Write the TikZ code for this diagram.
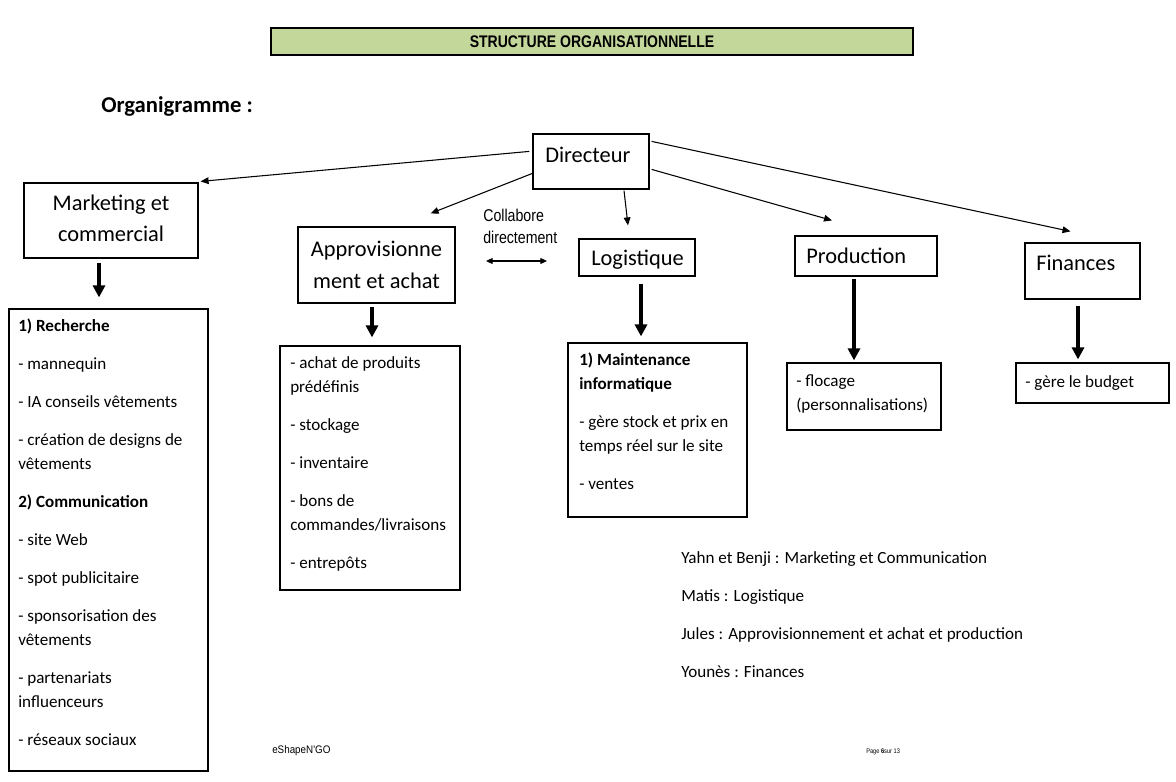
\documentclass[tikz,border=0pt]{standalone}
\usepackage{fontspec}
\setmainfont{Carlito}
\newfontfamily\arialf{Liberation Sans}
\usetikzlibrary{arrows.meta,fit,calc}
\begin{document}
\begin{tikzpicture}[x=0.75pt,y=-0.75pt,
  box/.style={draw, line width=0.9pt, inner sep=0pt},
  titlebar/.style={draw, line width=0.9pt, inner sep=0pt, fill=barGreen},
  head/.style={font=\fontsize{16.8}{20}\selectfont, inner sep=0pt, anchor=base west},
  headc/.style={font=\fontsize{16.8}{20}\selectfont, inner sep=0pt, anchor=base},
  item/.style={font=\fontsize{12.8}{15}\selectfont, inner sep=0pt, anchor=base west},
  thin/.style={-{Triangle[length=6pt,width=5pt]}, line width=0.8pt},
  thick/.style={-{Triangle[length=9pt,width=9pt]}, line width=2.6pt},
  both/.style={{Triangle[length=5pt,width=4.5pt]}-{Triangle[length=5pt,width=4.5pt]}, line width=0.8pt}
]
\definecolor{barGreen}{HTML}{C4D79B}
\fill[white] (0,0) rectangle (1176,781);
\useasboundingbox (0,0) rectangle (1176,781);

% title bar
\node[titlebar, fit={(271,28)(913,55)}] (bar) {};
\node[inner sep=0pt, font=\arialf\bfseries\fontsize{12.6}{14}\selectfont] (bartxt) at (bar.center) {\scalebox{0.835}[1]{STRUCTURE ORGANISATIONNELLE}};

\node[inner sep=0pt, anchor=base west, font=\bfseries\fontsize{17}{20}\selectfont] (orga) at (101,113) {Organigramme :};

% level boxes
\node[box, fit={(533,134)(649,189)}] (dir) {};
\node[head] (dirt) at (545,162) {Directeur};

\node[box, fit={(24,183)(198,258)}] (mkt) {};
\node[headc] (mkt1) at (111,210) {Marketing et};
\node[headc] (mkt2) at (111,241) {commercial};

\node[box, fit={(298,227)(455,303)}] (app) {};
\node[headc] (app1) at (376.5,256) {Approvisionne};
\node[headc] (app2) at (376.5,288) {ment et achat};

\node[box, fit={(579,239)(695,276)}] (log) {};
\node[head] (logt) at (591,265) {Logistique};

\node[box, fit={(795,236)(937,276)}] (prod) {};
\node[head] (prodt) at (806,263) {Production};

\node[box, fit={(1025,243)(1140,299)}] (fin) {};
\node[head] (fint) at (1036,270) {Finances};

% collabore
\node[inner sep=0pt, anchor=base west, font=\arialf\fontsize{12.8}{14}\selectfont] (col1) at (483,221) {\scalebox{0.83}[1]{Collabore}};
\node[inner sep=0pt, anchor=base west, font=\arialf\fontsize{12.8}{14}\selectfont] (col2) at (483,243) {\scalebox{0.83}[1]{directement}};
\coordinate (cl) at (486,261);
\coordinate (cr) at (547,261);
\draw[both] (cl) -- (cr);

% director arrows
\draw[thin] ($(dir.north west)+(-3,18)$) -- ($(mkt.north east)+(2,-1)$);
\draw[thin] ($(dir.north west)+(0,40)$) -- ($(app.north east)+(-25,-13)$);
\draw[thin] ($(dir.south)+(33,1)$) -- ($(log.north)+(-9,-13)$);
\draw[thin] ($(dir.north east)+(2,36)$) -- ($(prod.north)+(-34,-15)$);
\draw[thin] ($(dir.north east)+(2,8)$) -- ($(fin.north)+(-12,-11)$);

% list boxes
\node[box, fit={(9,309)(208,771)}] (mktl) {};
\node[box, fit={(280,346)(460,590)}] (appl) {};
\node[box, fit={(568,343)(747,517)}] (logl) {};
\node[box, fit={(787,363)(941,430)}] (prodl) {};
\node[box, fit={(1016,363)(1169,403)}] (finl) {};

% thick arrows
\draw[thick] ($(mkt.south)+(-12,4)$) -- ($(mktl.north)+(-9.5,-11)$);
\draw[thick] ($(app.south)+(-4.5,3)$) -- ($(appl.north)+(2,-8)$);
\draw[thick] ($(log.south)+(4,7)$) -- ($(logl.north)+(-16.5,-6)$);
\draw[thick] ($(prod.south)+(-12,2)$) -- ($(prodl.north)+(-10,-2)$);
\draw[thick] ($(fin.south)+(-4.5,6)$) -- ($(finl.north)+(-14.5,-3)$);

% list texts
\foreach \y/\t [count=\i] in {331/{\textbf{1) Recherche}}, 369/{- mannequin}, 407/{- IA conseils vêtements}, 445/{- création de designs de}, 469/{vêtements}, 507/{\textbf{2) Communication}}, 545/{- site Web}, 583/{- spot publicitaire}, 621/{- sponsorisation des}, 645/{vêtements}, 683/{- partenariats}, 707/{influenceurs}, 745/{- réseaux sociaux}}
  \node[item] (mk\i) at (18,\y) {\t};

\foreach \y/\t [count=\i] in {368/{- achat de produits}, 392/{prédéfinis}, 430/{- stockage}, 468/{- inventaire}, 506/{- bons de}, 530/{commandes/livraisons}, 568/{- entrepôts}}
  \node[item] (ap\i) at (290,\y) {\t};

\foreach \y/\t [count=\i] in {365/{\textbf{1) Maintenance}}, 389/{\textbf{informatique}}, 427/{- gère stock et prix en}, 451/{temps réel sur le site}, 489/{- ventes}}
  \node[item] (lg\i) at (579,\y) {\t};

\node[item] (pr1) at (796,386) {- flocage};
\node[item] (pr2) at (796,410) {(personnalisations)};
\node[item] (fi1) at (1025,387) {- gère le budget};

\foreach \y/\t [count=\i] in {563/{Yahn et Benji : Marketing et Communication}, 601/{Matis : Logistique}, 639/{Jules : Approvisionnement et achat et production}, 677/{Younès : Finances}}
  \node[item] (rs\i) at (681,\y) {\t};

% footer
\node[inner sep=0pt, anchor=base west, font=\arialf\fontsize{8.2}{9}\selectfont] (foot1) at (272,753) {\scalebox{0.9}[1]{eShapeN'GO}};
\node[inner sep=0pt, anchor=base west, font=\arialf\fontsize{5}{6}\selectfont] (foot2) at (866,753) {\scalebox{0.85}[1]{Page \textbf{6}sur 13}};
\end{tikzpicture}
\end{document}
